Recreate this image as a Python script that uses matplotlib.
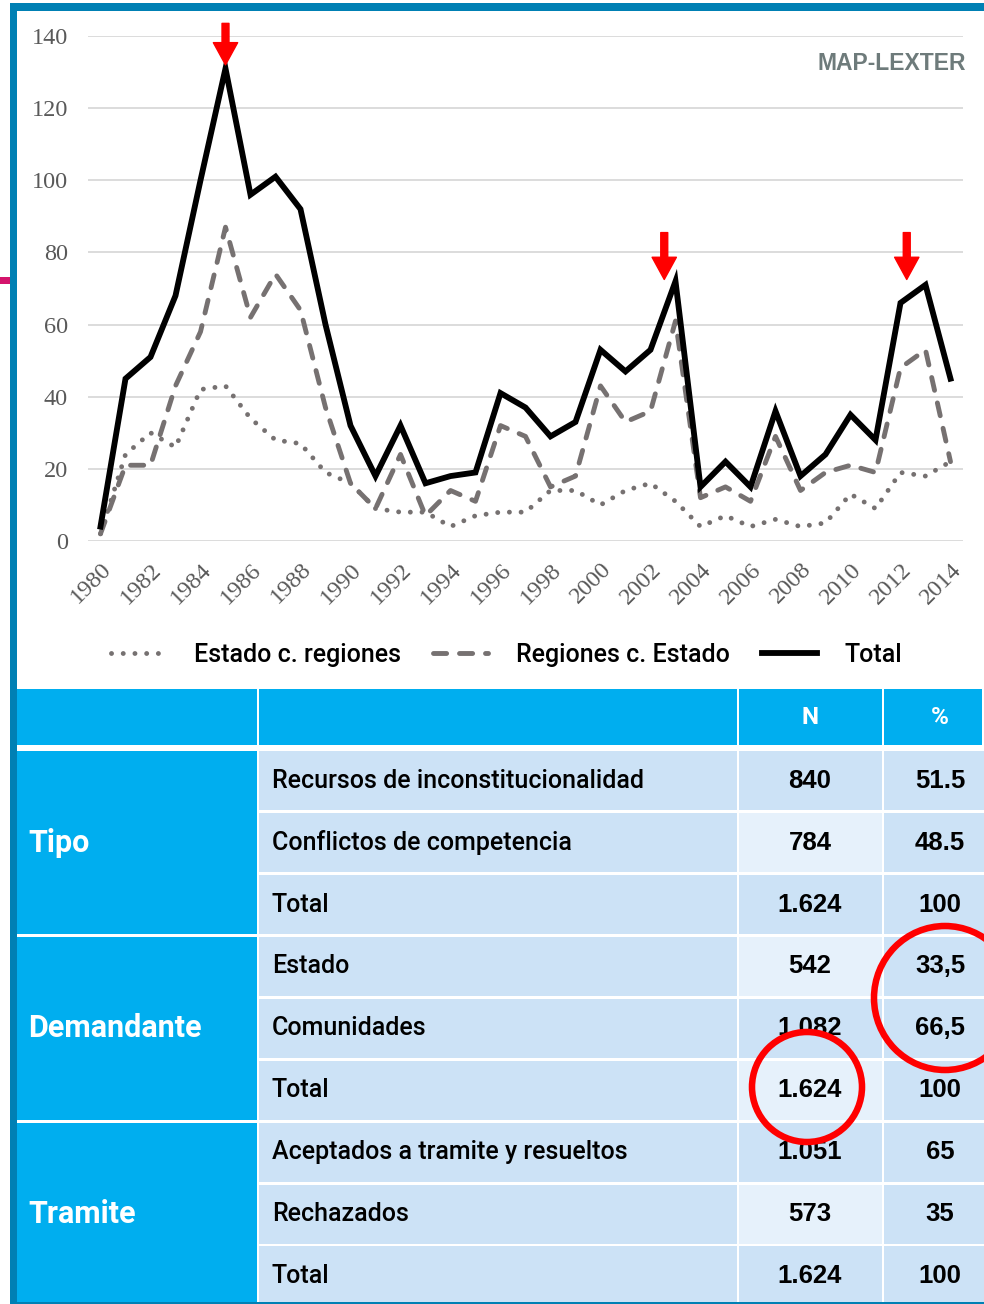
import numpy as np
import matplotlib
matplotlib.use('Agg')
import matplotlib.pyplot as plt
from matplotlib.patches import Rectangle, Ellipse, FancyArrowPatch


# chart data
years = list(range(1980, 2015))
estado_c_regiones = [2, 24, 30, 26, 42, 43, 34, 28, 27, 19, 16, 9, 8, 8, 4, 7, 8, 8, 14, 14,
                     10, 14, 16, 11, 4, 7, 4, 6, 4, 5, 13, 9, 19, 18, 22]
regiones_c_estado = [2, 21, 21, 43, 58, 87, 62, 74, 64, 37, 16, 9, 24, 7, 14, 11, 32, 29, 15, 18,
                     43, 33, 36, 61, 12, 15, 11, 29, 14, 19, 21, 19, 48, 53, 22]
total = [4, 45, 51, 68, 100, 131, 96, 101, 92, 60, 32, 18, 32, 16, 18, 19, 41, 37, 29, 33,
         53, 47, 53, 72, 15, 22, 15, 36, 18, 24, 35, 28, 66, 71, 45]
arrow_years = [1985.0, 2002.55, 2012.25]
arrow_tips = [132, 72.5, 72.5]
arrow_tops = [143.5, 85.5, 85.5]

# table data
groups = ['Tipo', 'Demandante', 'Tramite']
row_labels = ['Recursos de inconstitucionalidad', 'Conflictos de competencia', 'Total',
              'Estado', 'Comunidades', 'Total',
              'Aceptados a tramite y resueltos', 'Rechazados', 'Total']
n_values = ['840', '784', '1.624', '542', '1.082', '1.624', '1.051', '573', '1.624']
pct_values = ['51.5', '48.5', '100', '33,5', '66,5', '100', '65', '35', '100']
header = ['', '', 'N', '%']

W, H = 984, 1304
fig = plt.figure(figsize=(W / 100, H / 100), dpi=100)
fig.patch.set_facecolor('white')

# --- line chart ---
ax = fig.add_axes([87.5 / W, 1 - 541 / H, 875 / W, 505 / H])
ax.plot(years, estado_c_regiones, color='#767171', lw=3.5,
        linestyle=(0, (0.01, 2.4)), dash_capstyle='round', label='Estado c. regiones')
ax.plot(years, regiones_c_estado, color='#767171', lw=3.5,
        linestyle=(0, (2.7, 2.65)), dash_capstyle='round', label='Regiones c. Estado')
ax.plot(years, total, color='black', lw=4.2, solid_joinstyle='miter', label='Total')

ax.set_xlim(1979.48, 2014.48)
ax.set_ylim(0, 140)
ax.set_yticks(range(0, 141, 20))
ax.set_xticks(range(1980, 2015, 2))
ax.grid(axis='y', color='#D9D9D9', lw=1.3)
ax.set_axisbelow(True)
for s in ax.spines.values():
    s.set_visible(False)
ax.tick_params(axis='both', length=0)
ax.tick_params(axis='y', pad=14)
ax.tick_params(axis='x', pad=13)
for lab in ax.get_yticklabels():
    lab.set_fontfamily('Liberation Serif')
    lab.set_fontsize(17.5)
    lab.set_color('#595959')
ax.set_xticklabels([str(y) for y in range(1980, 2015, 2)], rotation=45, ha='right',
                   rotation_mode='anchor', fontfamily='Liberation Serif', fontsize=17.5,
                   color='#595959')

for xa, tip, top in zip(arrow_years, arrow_tips, arrow_tops):
    arr = FancyArrowPatch((xa, top), (xa, tip), arrowstyle='simple,head_length=1.6,head_width=1.75,tail_width=0.5',
                          mutation_scale=10, color='#FF0000', shrinkA=0, shrinkB=0, clip_on=False, zorder=5)
    ax.add_patch(arr)

ax.text(1.004, 0.945, 'MAP-LEXTER', transform=ax.transAxes, ha='right', va='center',
        fontfamily='Liberation Sans', fontweight='bold', fontsize=16.5, color='#6E7B7B')

fig.legend(loc='center', bbox_to_anchor=(0.515, 1 - 655 / H), ncol=3, frameon=False,
           prop={'family': 'Roboto', 'size': 18, 'weight': 'medium'}, handlelength=2.2,
           handletextpad=1.1, columnspacing=1.3)

# --- frame and table (pixel coordinates) ---
ov = fig.add_axes([0, 0, 1, 1], zorder=-1)
ov.set_xlim(0, W)
ov.set_ylim(H, 0)
ov.axis('off')

frame = '#0080B4'
bright = '#00AEEF'
pale = '#CCE2F6'
paler = '#E6F1FB'

ov.add_patch(Rectangle((10, 3), 7, H - 3, color=frame, lw=0))
ov.add_patch(Rectangle((10, 3), W - 10, 8, color=frame, lw=0))
ov.add_patch(Rectangle((0, 277), 10, 7, color='#D4146C', lw=0))

col_x = [17, 259, 739, 884, W]
text_x = [28, 272, 810, 940]
# header
for j in range(4):
    ov.add_patch(Rectangle((col_x[j], 689), col_x[j + 1] - col_x[j] - 2.5, 56, color=bright, lw=0))
    if header[j]:
        ov.text(text_x[j], 718, header[j], ha='center', va='center',
                color='white', fontfamily='Roboto', fontweight='bold', fontsize=17.5)

row_top = 751.2
row_h = 61.9
bottom = H - 2
for i, (lab, n, p) in enumerate(zip(row_labels, n_values, pct_values)):
    y0 = row_top + i * row_h
    h = min(row_h - 2.8, bottom - y0)
    yc = y0 + (row_h - 2.8) / 2
    ov.add_patch(Rectangle((col_x[1], y0), col_x[2] - col_x[1] - 2.5, h, color=pale, lw=0))
    ncol = paler if i % 2 == 1 else pale
    ov.add_patch(Rectangle((col_x[2], y0), col_x[3] - col_x[2] - 2.5, h, color=ncol, lw=0))
    ov.add_patch(Rectangle((col_x[3], y0), col_x[4] - col_x[3], h, color=pale, lw=0))
    ov.text(text_x[1], yc, lab, ha='left', va='center', color='black', fontfamily='Roboto',
            fontweight='medium', fontsize=18)
    ov.text(text_x[2], yc, n, ha='center', va='center', color='black', fontfamily='Liberation Sans',
            fontweight='bold', fontsize=18.5)
    ov.text(text_x[3], yc, p, ha='center', va='center', color='black', fontfamily='Liberation Sans',
            fontweight='bold', fontsize=18.5)

for g, name in enumerate(groups):
    y0 = row_top + g * 3 * row_h
    h = min(3 * row_h - 2.8, bottom - y0)
    ov.add_patch(Rectangle((col_x[0], y0), col_x[1] - col_x[0] - 2.5, h, color=bright, lw=0))
    ov.text(text_x[0], y0 + (3 * row_h - 2.8) / 2, name, ha='left', va='center', color='white',
            fontfamily='Roboto', fontweight='bold', fontsize=22)

ov.add_patch(Rectangle((17, bottom), W - 17, 2, color=frame, lw=0))

# red circles on top of table
top_ax = fig.add_axes([0, 0, 1, 1], zorder=10)
top_ax.set_xlim(0, W)
top_ax.set_ylim(H, 0)
top_ax.axis('off')
top_ax.add_patch(Ellipse((945, 998), 142, 144, fill=False, ec='#FF0000', lw=4.7))
top_ax.add_patch(Ellipse((807, 1087), 110, 110, fill=False, ec='#FF0000', lw=4.7))

fig.savefig('out.png', dpi=100)
